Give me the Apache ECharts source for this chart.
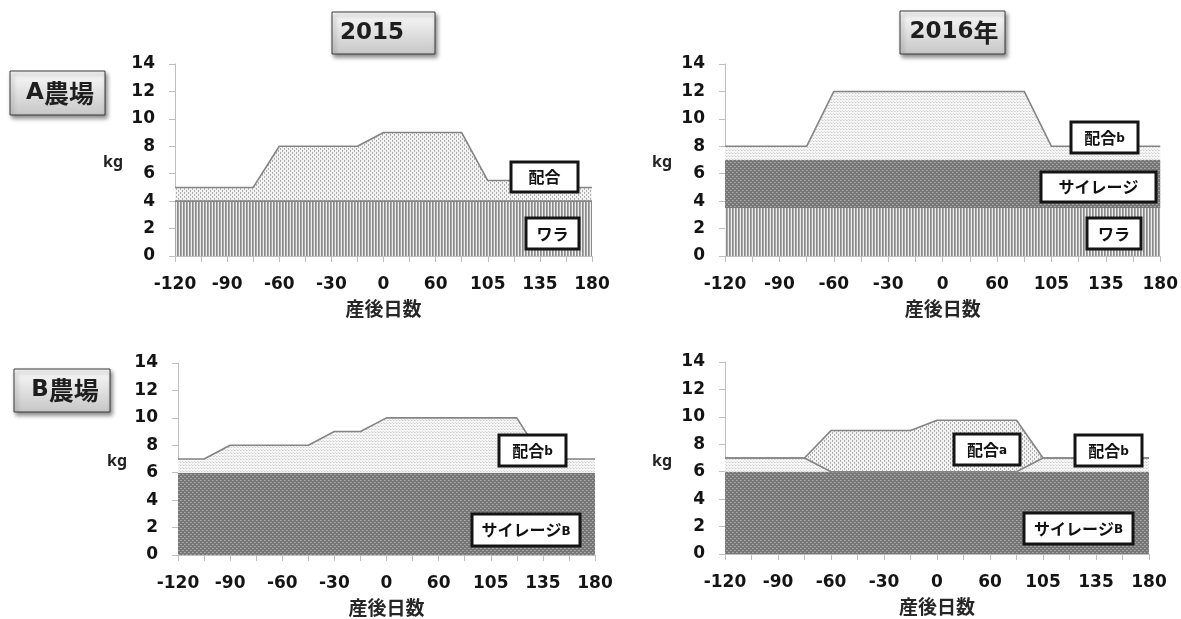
<!DOCTYPE html>
<html>
<head>
<meta charset="utf-8">
<script src="https://cdn.jsdelivr.net/npm/echarts@6/dist/echarts.min.js"></script>
<style>
  html, body { margin: 0; padding: 0; background: #ffffff; }
  #chart { width: 1181px; height: 619px; }
</style>
</head>
<body>
<div id="chart"></div>
<script>
// Days relative to calving (every second one is labelled)
const days = ['-120', '-105', '-90', '-75', '-60', '-45', '-30', '-15', '0', '30', '60', '90', '105', '120', '135', '150', '180'];

// A農場 2015 (kg, stacked)
const a15Wara  = [4, 4, 4, 4, 4, 4, 4, 4, 4, 4, 4, 4, 4, 4, 4, 4, 4];
const a15Haigo = [1, 1, 1, 1, 4, 4, 4, 4, 5, 5, 5, 5, 1.5, 1.5, 1, 1, 1];

// A農場 2016年
const a16Wara   = [3.5, 3.5, 3.5, 3.5, 3.5, 3.5, 3.5, 3.5, 3.5, 3.5, 3.5, 3.5, 3.5, 3.5, 3.5, 3.5, 3.5];
const a16Silage = [3.5, 3.5, 3.5, 3.5, 3.5, 3.5, 3.5, 3.5, 3.5, 3.5, 3.5, 3.5, 3.5, 3.5, 3.5, 3.5, 3.5];
const a16HaigoB = [1, 1, 1, 1, 5, 5, 5, 5, 5, 5, 5, 5, 1, 1, 1, 1, 1];

// B農場 2015
const b15Silage = [6, 6, 6, 6, 6, 6, 6, 6, 6, 6, 6, 6, 6, 6, 6, 6, 6];
const b15HaigoB = [1, 1, 2, 2, 2, 2, 3, 3, 4, 4, 4, 4, 4, 4, 1, 1, 1];

// B農場 2016年
const b16Silage = [6, 6, 6, 6, 6, 6, 6, 6, 6, 6, 6, 6, 6, 6, 6, 6, 6];
const b16HaigoB = [1, 1, 1, 1, 0, 0, 0, 0, 0, 0, 0, 0, 1, 1, 1, 1, 1];
const b16HaigoA = [0, 0, 0, 0, 3, 3, 3, 3, 3.75, 3.75, 3.75, 3.75, 0, 0, 0, 0, 0];

// Small repeating bitmaps used as hatch fills
function pattern(w, h, bg, dots) {
  const c = document.createElement('canvas');
  c.width = w; c.height = h;
  const g = c.getContext('2d');
  g.fillStyle = bg; g.fillRect(0, 0, w, h);
  dots.forEach(([x, y, col]) => { g.fillStyle = col; g.fillRect(x, y, 1, 1); });
  return { image: c, repeat: 'repeat' };
}
const stripeFill = pattern(3, 1, '#eeeeee', [[0, 0, '#8a8a8a'], [1, 0, '#a8a8a8']]);
const silageFill = pattern(4, 4, '#777777', [[0, 0, '#a8a8a8'], [1, 0, '#9a9a9a'], [2, 2, '#a8a8a8'], [3, 2, '#9a9a9a']]);
const denseFill  = pattern(4, 4, '#f2f2f2', [[0, 0, '#a9a9a9'], [0, 1, '#b5b5b5'], [2, 2, '#a9a9a9'], [2, 3, '#b5b5b5']]);
const lightFill  = pattern(3, 3, '#f6f6f6', [[0, 0, '#cdcdcd'], [1, 0, '#e2e2e2'], [2, 2, '#dadada']]);

const grids = [
  { left: 175, top: 64,  width: 417, height: 192 },
  { left: 725, top: 64,  width: 447, height: 192 },
  { left: 178, top: 363, width: 417, height: 192 },
  { left: 725, top: 362, width: 424, height: 192 }
];

const AX = '#bfbfbf';
const NUM_FONT = 'DejaVu Sans';
const JP_FONT = 'Noto Sans CJK JP';

function xAxis(gi) {
  return {
    type: 'category', gridIndex: gi, data: days, boundaryGap: false,
    axisLine: { lineStyle: { color: AX, width: 1 } },
    axisTick: { interval: 0, length: 6, lineStyle: { color: AX } },
    axisLabel: { interval: 1, margin: 20, color: '#141414', fontFamily: NUM_FONT, fontWeight: 'bold', fontSize: 17 },
    splitLine: { show: false },
    name: '産後日数', nameLocation: 'middle', nameGap: 43,
    nameTextStyle: { fontFamily: JP_FONT, fontWeight: 'bold', fontSize: 19, color: '#262626' }
  };
}
function yAxis(gi) {
  return {
    type: 'value', gridIndex: gi, min: 0, max: 14, interval: 2,
    axisLine: { show: true, lineStyle: { color: AX, width: 1 } },
    axisTick: { show: true, length: 6, lineStyle: { color: AX } },
    axisLabel: { margin: 20, color: '#141414', fontFamily: NUM_FONT, fontWeight: 'bold', fontSize: 17 },
    splitLine: { show: false }
  };
}
function area(gi, name, data, fill, withLine) {
  return {
    type: 'line', name: name, xAxisIndex: gi, yAxisIndex: gi, stack: 'feed' + gi,
    data: data, symbol: 'none', showSymbol: false, smooth: false, animation: false,
    lineStyle: withLine ? { color: '#858585', width: 1.6 } : { width: 0 },
    areaStyle: { color: fill, opacity: 1 }
  };
}

// Boxed headings with a soft grey gradient and drop shadow
const headRich = {
  n: { fontFamily: NUM_FONT, fontWeight: 'bold', fontSize: 23, fill: '#1e1e1e', color: '#1e1e1e' },
  j: { fontFamily: JP_FONT, fontWeight: 'bold', fontSize: 25, fill: '#1e1e1e', color: '#1e1e1e' }
};
function heading(x, y, w, h, text, tx) {
  return [
    { type: 'rect', z: 100, shape: { x: x, y: y, width: w, height: h },
      style: {
        fill: new echarts.graphic.LinearGradient(0, 0, 0, 1, [
          { offset: 0, color: '#fbfbfb' }, { offset: 1, color: '#c6c6c6' }]),
        stroke: '#3a3a3a', lineWidth: 1,
        shadowBlur: 4, shadowOffsetX: 2, shadowOffsetY: 3, shadowColor: 'rgba(0,0,0,0.45)'
      } },
    { type: 'text', z: 101, x: tx, y: y + h / 2,
      style: { text: text, rich: headRich, align: 'center', verticalAlign: 'middle' } }
  ];
}
// White series tags with heavy black frame
function tag(x, y, w, h, main, sub) {
  const rich = {
    m: { fontFamily: JP_FONT, fontWeight: 'bold', fontSize: 16, fill: '#111', color: '#111' },
    s: { fontFamily: NUM_FONT, fontWeight: 'bold', fontSize: 12, fill: '#111', color: '#111', padding: [3, 0, 0, 0] }
  };
  return [
    { type: 'rect', z: 100, shape: { x: x, y: y, width: w, height: h },
      style: { fill: '#ffffff', stroke: '#141414', lineWidth: 3 } },
    { type: 'text', z: 101, x: x + w / 2, y: y + h / 2,
      style: { text: sub ? '{m|' + main + '}{s|' + sub + '}' : '{m|' + main + '}',
               rich: rich, align: 'center', verticalAlign: 'middle' } }
  ];
}
function kg(x, y) {
  return { type: 'text', z: 100, x: x, y: y,
    style: { text: 'kg', align: 'center', verticalAlign: 'middle', fill: '#222',
             fontFamily: 'Noto Sans', fontWeight: 'bold', fontSize: 16 } };
}

const graphics = [].concat(
  heading(332, 12, 103, 42, '{n|2015}', 372),
  heading(900, 11, 105, 43, '{n|2016}{j|年}', 954),
  heading(10, 71, 95, 44, '{n|A}{j|農場}', 60),
  heading(14, 369, 96, 43, '{n|B}{j|農場}', 65),
  tag(511, 162, 67, 30, '配合'),
  tag(526, 218, 53, 31, 'ワラ'),
  tag(1071, 122, 67, 31, '配合', 'b'),
  tag(1041, 172, 115, 30, 'サイレージ'),
  tag(1087, 218, 54, 31, 'ワラ'),
  tag(499, 435, 67, 31, '配合', 'b'),
  tag(472, 514, 108, 32, 'サイレージ', 'B'),
  tag(954, 434, 66, 31, '配合', 'a'),
  tag(1075, 435, 67, 31, '配合', 'b'),
  tag(1024, 513, 109, 31, 'サイレージ', 'B'),
  [kg(113, 162), kg(662, 162), kg(117, 461), kg(662, 461)]
);

const chart = echarts.init(document.getElementById('chart'), null, { renderer: 'canvas' });
chart.setOption({
  animation: false,
  backgroundColor: '#ffffff',
  grid: grids,
  xAxis: [xAxis(0), xAxis(1), xAxis(2), xAxis(3)],
  yAxis: [yAxis(0), yAxis(1), yAxis(2), yAxis(3)],
  series: [
    area(0, 'ワラ', a15Wara, stripeFill, true),
    area(0, '配合', a15Haigo, denseFill, true),
    area(1, 'ワラ', a16Wara, stripeFill, false),
    area(1, 'サイレージ', a16Silage, silageFill, false),
    area(1, '配合b', a16HaigoB, lightFill, true),
    area(2, 'サイレージB', b15Silage, silageFill, false),
    area(2, '配合b', b15HaigoB, lightFill, true),
    area(3, 'サイレージB', b16Silage, silageFill, false),
    area(3, '配合b', b16HaigoB, lightFill, true),
    area(3, '配合a', b16HaigoA, denseFill, true)
  ],
  graphic: { elements: graphics }
});
</script>
</body>
</html>
